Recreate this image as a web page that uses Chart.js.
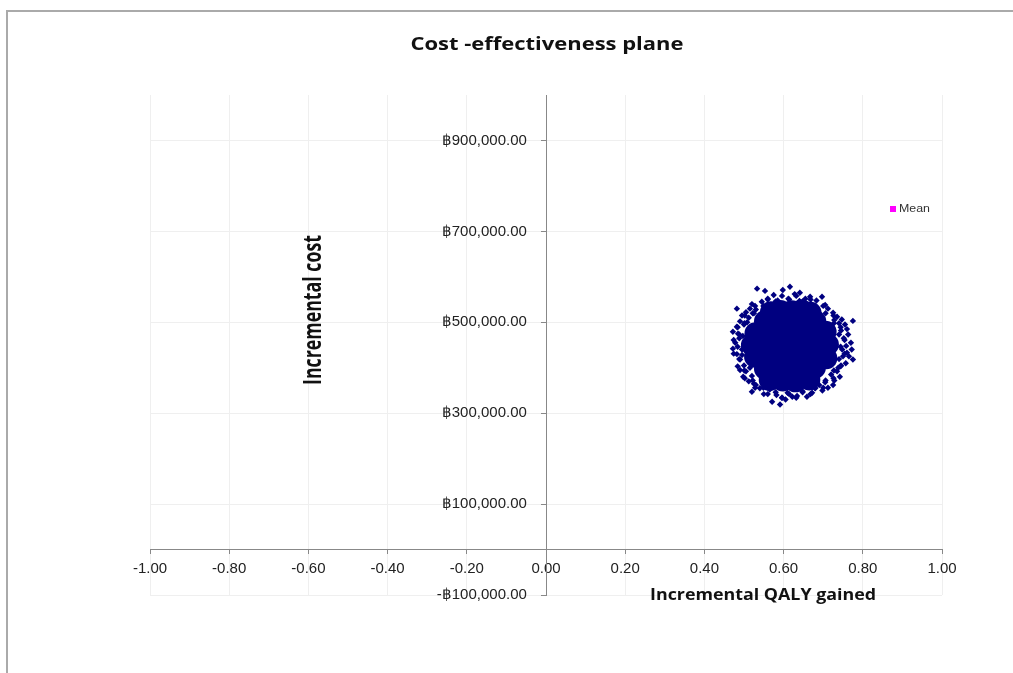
<!DOCTYPE html>
<html lang="en">
<head>
    <meta charset="UTF-8">
    <title>Cost-effectiveness plane</title>
    <style>
        body {margin: 0; background: #fff; overflow: hidden;}
        .frame {position: absolute; left: 6px; top: 10px; width: 1100px; height: 700px;
                border-top: 2px solid #aaa; border-left: 2px solid #aaa;}
        #myChart {position: absolute; left: 0; top: 0;}
    </style>
</head>
<body>
    <div class="frame"></div>
    <canvas id="myChart" width="1013" height="673"></canvas>

    <script src="https://cdn.jsdelivr.net/npm/chart.js@4.4.0/dist/chart.umd.min.js"></script>
    <script>

// 텍스트
const chartTitle = 'Cost -effectiveness plane';
const xTitle = 'Incremental QALY gained';
const yTitle = 'Incremental cost';
const meanLabel = 'Mean';

// 축 눈금
const xTickMin = -1, xTickMax = 1, xTickStep = 0.2;
const yTickValues = [-100000, 100000, 300000, 500000, 700000, 900000];
const yMin = -100000, yMax = 1000000;

// 시뮬레이션 결과 - 중심부 (빽빽한 부분)
const simCore = [
    [0.565, 373000], [0.598, 372000], [0.630, 370000], [0.665, 374000],
    [0.553, 398000], [0.585, 396000], [0.617, 399000], [0.650, 397000], [0.679, 400000],
    [0.528, 424000], [0.561, 422000], [0.592, 425000], [0.624, 423000], [0.657, 426000], [0.688, 424000], [0.708, 421000],
    [0.520, 450000], [0.552, 452000], [0.585, 448000], [0.616, 450000], [0.648, 452000], [0.681, 449000], [0.712, 451000],
    [0.529, 476000], [0.560, 478000], [0.593, 475000], [0.625, 477000], [0.656, 474000], [0.687, 476000], [0.706, 479000],
    [0.553, 502000], [0.584, 500000], [0.616, 503000], [0.649, 501000], [0.680, 502000],
    [0.568, 522000], [0.592, 525000], [0.621, 524000], [0.646, 526000], [0.668, 521000]
];

// 시뮬레이션 결과 - 가장자리 점들
const simEdge = [
    // 바깥쪽 흩어진 점
    [0.533, 574000], [0.553, 569000], [0.575, 560000], [0.598, 571000], [0.616, 578000], [0.628, 562000],
    [0.641, 565000], [0.655, 552000], [0.667, 556000], [0.683, 548000], [0.697, 556000], [0.585, 548000],
    [0.560, 552000], [0.545, 545000], [0.612, 552000], [0.640, 547000], [0.670, 540000], [0.705, 538000],
    [0.520, 540000], [0.530, 528000],
    [0.725, 521000], [0.712, 530000], [0.735, 512000], [0.747, 506000], [0.775, 503000], [0.755, 495000],
    [0.740, 498000], [0.728, 505000], [0.760, 485000], [0.745, 482000],
    [0.763, 473000], [0.752, 465000], [0.770, 455000], [0.758, 448000], [0.748, 440000], [0.760, 433000],
    [0.775, 418000], [0.765, 425000], [0.750, 425000], [0.757, 410000], [0.745, 405000], [0.772, 440000],
    [0.742, 380000], [0.735, 392000], [0.728, 372000], [0.720, 385000], [0.712, 356000], [0.705, 368000],
    [0.725, 362000], [0.698, 350000], [0.690, 362000], [0.738, 400000],
    [0.520, 347000], [0.540, 355000], [0.550, 342000], [0.565, 352000], [0.571, 325000], [0.582, 340000],
    [0.596, 334000], [0.591, 319000], [0.610, 345000], [0.622, 336000], [0.634, 338000], [0.648, 348000],
    [0.659, 336000], [0.672, 345000], [0.680, 355000], [0.605, 330000], [0.560, 365000], [0.530, 362000],
    [0.498, 380000], [0.505, 392000], [0.512, 370000], [0.520, 382000], [0.490, 395000], [0.500, 405000],
    [0.515, 400000], [0.525, 365000],
    [0.490, 418000], [0.472, 442000], [0.482, 430000], [0.495, 440000], [0.478, 455000], [0.488, 465000],
    [0.472, 479000], [0.485, 475000], [0.500, 452000], [0.482, 490000], [0.495, 428000], [0.497, 470000],
    [0.482, 530000], [0.495, 515000], [0.490, 502000], [0.505, 522000], [0.500, 495000], [0.512, 510000],
    [0.515, 530000], [0.525, 520000], [0.508, 500000],
    // 중심부 경계 근처
    [0.744, 446000], [0.740, 473000], [0.727, 498000], [0.706, 520000], [0.679, 536000], [0.648, 546000],
    [0.614, 550000], [0.580, 546000], [0.549, 536000], [0.522, 520000], [0.501, 498000], [0.488, 473000],
    [0.484, 446000], [0.488, 419000], [0.501, 394000], [0.522, 372000], [0.549, 356000], [0.580, 346000],
    [0.614, 342000], [0.648, 346000], [0.679, 356000], [0.706, 372000], [0.727, 394000], [0.740, 419000],
    [0.754, 461000], [0.744, 489000], [0.726, 515000], [0.700, 536000], [0.668, 550000], [0.632, 558000],
    [0.596, 558000], [0.560, 550000], [0.528, 536000], [0.502, 515000], [0.484, 489000], [0.474, 461000],
    [0.474, 431000], [0.484, 403000], [0.502, 377000], [0.528, 356000], [0.560, 342000], [0.596, 334000],
    [0.632, 334000], [0.668, 342000], [0.700, 356000], [0.726, 377000], [0.744, 403000], [0.754, 431000]
];

// 평균값
const meanPoint = [[0.612, 449000]];

const toXY = (arr) => arr.map(p => ({x: p[0], y: p[1]}));

// 바트 표시 (축선과 간격을 두기 위해 뒤에 공백)
function fmtBaht(v) {
    const s = Math.abs(v).toLocaleString('en-US', {minimumFractionDigits: 2, maximumFractionDigits: 2});
    return (v < 0 ? '-' : '') + '\u0E3F' + s + '\u2002\u2002 ';
}

// 원본 그림이 가로로 늘어나 있어서 글자 폭을 맞춰 그림
function drawStretched(c, text, cx, cy, font, targetWidth) {
    c.font = font;
    const w = c.measureText(text).width;
    c.save();
    c.translate(cx, cy);
    c.scale(targetWidth / w, 1);
    c.fillText(text, 0, 0);
    c.restore();
}

// 제목, 범례 그리기
const planeTitles = {
    id: 'planeTitles',
    afterDraw(chart) {
        const c = chart.ctx;
        c.save();
        c.fillStyle = '#111';
        c.textAlign = 'center';
        c.textBaseline = 'middle';

        drawStretched(c, chartTitle, 547, 45, 'bold 17px "Open Sans"', 273);
        drawStretched(c, xTitle, 763, 595, 'bold 16px "Open Sans"', 226);

        // 세로 축 제목
        c.save();
        c.translate(314, 310);
        c.rotate(-Math.PI / 2);
        c.font = 'bold 20px "Open Sans"';
        const w = c.measureText(yTitle).width;
        c.scale(150 / w, 1.25);
        c.fillText(yTitle, 0, 0);
        c.restore();

        // 범례
        c.fillStyle = '#ff00ff';
        c.fillRect(890, 206, 6, 6);
        c.fillStyle = '#333';
        c.textAlign = 'left';
        drawStretched(c, meanLabel, 899, 209.5, '10px "Liberation Sans"', 31);
        c.restore();
    }
};

const ctx = document.getElementById('myChart').getContext('2d');

const config = {
    type: 'scatter',
    plugins: [planeTitles],
    data: {
        datasets: [{
            label: 'Simulation',
            data: toXY(simCore),
            pointStyle: 'circle',
            pointRadius: 11,
            backgroundColor: '#000080',
            borderWidth: 0
        }, {
            label: 'Simulation',
            data: toXY(simEdge),
            pointStyle: 'rectRot',
            pointRadius: 3.2,
            backgroundColor: '#000080',
            borderColor: '#000080',
            borderWidth: 0
        }, {
            label: meanLabel,
            data: toXY(meanPoint),
            pointStyle: 'rect',
            pointRadius: 3.5,
            backgroundColor: '#ff00ff',
            borderWidth: 0
        }]
    },
    options: {
        responsive: false,
        animation: false,
        layout: {padding: {left: 150, right: 71, top: 95, bottom: 78}},
        plugins: {
            legend: {display: false},
            tooltip: {enabled: false},
            title: {display: false}
        },
        scales: {
            x: {
                type: 'linear',
                position: {y: 0},
                min: xTickMin,
                max: xTickMax,
                ticks: {
                    stepSize: xTickStep,
                    callback: v => v.toFixed(2),
                    color: '#222',
                    font: {family: 'Liberation Sans', size: 15},
                    padding: 6,
                    maxRotation: 0
                },
                grid: {color: '#efefef', tickColor: '#888', tickLength: 4},
                border: {color: '#888', width: 1},
                afterFit: s => { s.height = 0; }
            },
            y: {
                type: 'linear',
                position: {x: 0},
                min: yMin,
                max: yMax,
                afterBuildTicks: s => { s.ticks = yTickValues.map(v => ({value: v})); },
                ticks: {
                    callback: v => fmtBaht(v),
                    color: '#222',
                    font: {family: 'Liberation Sans', size: 15}
                },
                grid: {color: '#efefef', tickColor: '#888', tickLength: 5},
                border: {color: '#888', width: 1},
                afterFit: s => { s.width = 0; }
            }
        }
    }
};

const myChart = new Chart(ctx, config);
    </script>
</body>
</html>
